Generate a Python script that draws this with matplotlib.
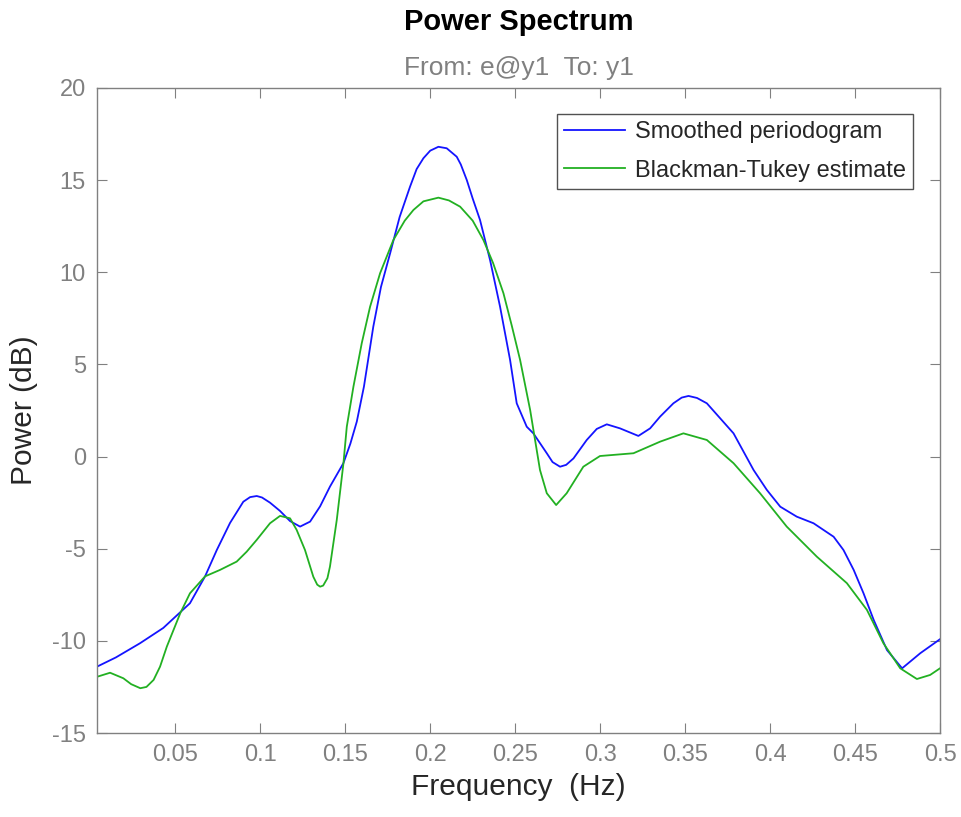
import matplotlib
matplotlib.use('Agg')
import matplotlib.pyplot as plt

plt.rcParams['font.family'] = ['Liberation Sans', 'DejaVu Sans']

# Smoothed periodogram
freq_sp = [0.0039, 0.0150, 0.0292, 0.0429, 0.0586, 0.0675, 0.0744, 0.0822, 0.0900,
           0.0940, 0.0979, 0.1010, 0.1057, 0.1116, 0.1175, 0.1234, 0.1293, 0.1352,
           0.1410, 0.1489, 0.1530, 0.1568, 0.1610, 0.1665, 0.1710, 0.1764, 0.1820,
           0.1881, 0.1920, 0.1960, 0.2000, 0.2048, 0.2097, 0.2156, 0.2180, 0.2215,
           0.2250, 0.2293, 0.2352, 0.2411, 0.2470, 0.2509, 0.2568, 0.2607, 0.2686,
           0.2720, 0.2764, 0.2800, 0.2843, 0.2921, 0.2980, 0.3039, 0.3117, 0.3225,
           0.3294, 0.3353, 0.3431, 0.3480, 0.3520, 0.3570, 0.3628, 0.3706, 0.3785,
           0.3903, 0.3981, 0.4060, 0.4157, 0.4256, 0.4374, 0.4432, 0.4492, 0.4550,
           0.4610, 0.4688, 0.4777, 0.4884, 0.5000]
pow_sp = [-11.40, -10.90, -10.13, -9.30, -7.96, -6.50, -5.07, -3.60, -2.45,
          -2.20, -2.14, -2.22, -2.50, -2.95, -3.50, -3.80, -3.53, -2.70,
          -1.63, -0.36, 0.70, 1.90, 3.80, 7.05, 9.20, 11.03, 13.00,
          14.64, 15.60, 16.19, 16.60, 16.81, 16.73, 16.27, 15.85, 15.01,
          14.00, 12.84, 10.67, 8.13, 5.24, 2.89, 1.62, 1.26, 0.18,
          -0.30, -0.55, -0.45, -0.10, 0.90, 1.50, 1.75, 1.53, 1.12,
          1.53, 2.17, 2.89, 3.20, 3.29, 3.18, 2.89, 2.08, 1.26,
          -0.73, -1.81, -2.72, -3.26, -3.62, -4.35, -5.07, -6.15, -7.42,
          -8.87, -10.50, -11.49, -10.67, -9.91]

# Blackman-Tukey estimate
freq_bt = [0.0039, 0.0116, 0.0194, 0.0240, 0.0294, 0.0330, 0.0372, 0.0410, 0.0450,
           0.0529, 0.0586, 0.0675, 0.0763, 0.0861, 0.0920, 0.0979, 0.1057, 0.1116,
           0.1175, 0.1214, 0.1263, 0.1312, 0.1335, 0.1352, 0.1370, 0.1395, 0.1410,
           0.1450, 0.1489, 0.1509, 0.1548, 0.1597, 0.1646, 0.1705, 0.1783, 0.1850,
           0.1901, 0.1960, 0.2048, 0.2110, 0.2176, 0.2250, 0.2313, 0.2370, 0.2431,
           0.2480, 0.2529, 0.2588, 0.2646, 0.2686, 0.2741, 0.2803, 0.2901, 0.2999,
           0.3196, 0.3353, 0.3490, 0.3628, 0.3785, 0.3941, 0.4098, 0.4275, 0.4452,
           0.4570, 0.4667, 0.4766, 0.4864, 0.4942, 0.5000]
pow_bt = [-11.95, -11.73, -12.03, -12.35, -12.57, -12.50, -12.12, -11.40, -10.31,
          -8.50, -7.42, -6.50, -6.15, -5.70, -5.16, -4.52, -3.62, -3.22,
          -3.35, -3.98, -5.07, -6.52, -6.95, -7.06, -7.00, -6.60, -5.97,
          -3.44, -0.39, 1.62, 3.79, 6.15, 8.13, 9.95, 11.75, 12.80,
          13.38, 13.85, 14.05, 13.90, 13.56, 12.80, 11.75, 10.50, 8.86,
          7.10, 5.24, 2.53, -0.73, -1.99, -2.63, -1.99, -0.55, 0.03,
          0.18, 0.81, 1.26, 0.90, -0.36, -1.99, -3.80, -5.43, -6.87,
          -8.32, -10.13, -11.49, -12.07, -11.85, -11.49]

x_ticks = [0.05, 0.1, 0.15, 0.2, 0.25, 0.3, 0.35, 0.4, 0.45, 0.5]
x_tick_labels = ['0.05', '0.1', '0.15', '0.2', '0.25', '0.3', '0.35', '0.4', '0.45', '0.5']
y_ticks = [-15, -10, -5, 0, 5, 10, 15, 20]
y_tick_labels = ['-15', '-10', '-5', '0', '5', '10', '15', '20']

grey = '#808080'

fig = plt.figure(figsize=(9.61, 8.17), dpi=100)
ax = fig.add_axes([97 / 961, 1 - 733 / 817, (940 - 97) / 961, (733 - 88) / 817])

ax.plot(freq_sp, pow_sp, color='#1414ff', lw=1.3, label='Smoothed periodogram')
ax.plot(freq_bt, pow_bt, color='#22b022', lw=1.3, label='Blackman-Tukey estimate')

ax.set_xlim(0.0039, 0.5)
ax.set_ylim(-15, 20)
ax.set_xticks(x_ticks)
ax.set_xticklabels(x_tick_labels)
ax.set_yticks(y_ticks)
ax.set_yticklabels(y_tick_labels)
ax.tick_params(direction='in', length=7, width=0.8, colors=grey, labelsize=17,
               top=True, right=True, pad=8)
for s in ax.spines.values():
    s.set_color(grey)
    s.set_linewidth(1.0)

ax.set_xlabel('Frequency  (Hz)', fontsize=21.5, color='#262626', labelpad=5)
ax.set_ylabel('Power (dB)', fontsize=21.5, color='#262626', labelpad=10)

cx = (97 + 940) / 2 / 961
fig.text(cx, 1 - 22 / 817, 'Power Spectrum', ha='center', va='center',
         fontsize=21, fontweight='bold', color='black')
fig.text(cx, 1 - 68 / 817, 'From: e@y1  To: y1', ha='center', va='center',
         fontsize=19, color=grey)

leg = ax.legend(loc='upper right',
                bbox_to_anchor=((913 - 97) / (940 - 97), 1 - (114 - 88) / (733 - 88)),
                fontsize=17, frameon=True, fancybox=False, handlelength=2.6,
                borderpad=0.3, labelspacing=0.7, handletextpad=0.4, borderaxespad=0)
leg.get_frame().set_edgecolor('#262626')
leg.get_frame().set_linewidth(1.0)
for t in leg.get_texts():
    t.set_color('#262626')

fig.savefig('out.png', dpi=100)
